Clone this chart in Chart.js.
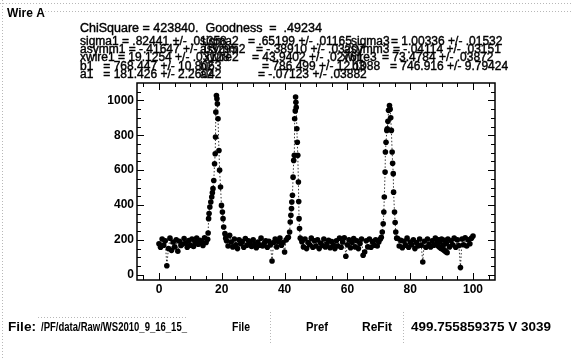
<!DOCTYPE html>
<html>
<head>
<meta charset="utf-8">
<script src="https://cdn.jsdelivr.net/npm/chart.js@4.4.0/dist/chart.umd.min.js"></script>
<style>
html, body { margin: 0; padding: 0; background: #fff; }
canvas { display: block; }
</style>
</head>
<body>
<canvas id="grafico" width="573" height="360"></canvas>
<script>
// wire position
const scanX = [
  0, 0.5, 1, 1.5, 2, 2.5, 3, 3.5, 4, 4.5, 5, 5.5, 6, 6.5, 7, 7.5, 8, 8.5, 9, 9.5,
  10, 10.5, 11, 11.5, 12, 12.5, 13, 13.5, 14, 14.5, 15, 15.5,
  15.65, 15.8, 15.95, 16.2, 16.5, 16.8, 17.0, 17.2, 17.45, 17.7, 17.9, 18.0, 18.1,
  18.3, 18.45, 18.6, 18.8, 19.1, 19.3, 19.6, 19.9, 20.2, 20.4, 20.6, 21.0, 21.25,
  21.5, 22, 22.5, 23, 23.5, 24, 24.5, 25, 25.5, 26,
  26.5, 27, 27.5, 28, 28.5, 29, 29.5, 30, 30.5, 31,
  31.5, 32, 32.5, 33, 33.5, 34, 34.5, 35, 35.5, 36,
  36.5, 37, 37.5, 38, 38.5, 39, 39.5, 40, 40.5, 41,
  41.2, 41.6, 41.8, 42.0, 42.2, 42.3, 42.5, 42.7, 42.9, 43.1, 43.2, 43.4, 43.5, 43.6,
  43.7, 43.9, 44.05, 44.2, 44.4, 44.5, 44.6, 44.75, 45.0,
  45.5, 46, 46.5, 47, 47.5, 48, 48.5, 49, 49.5, 50,
  50.5, 51, 51.5, 52, 52.5, 53, 53.5, 54, 54.5, 55,
  55.5, 56, 56.5, 57, 57.5, 58, 58.5, 59, 59.5, 60,
  60.5, 61, 61.5, 62, 62.5, 63, 63.5, 64, 64.5, 65,
  65.5, 66, 66.5, 67, 67.5, 68, 68.5, 69, 69.5, 70, 70.5,
  70.8, 71.1, 71.4, 71.6, 71.75, 72.0, 72.1, 72.3, 72.55, 72.7, 72.9, 73.1, 73.4, 73.6,
  73.8, 74.0, 74.25, 74.4, 74.6, 74.7, 75.0, 75.2, 75.4, 75.7,
  76, 76.5, 77, 77.5, 78, 78.5, 79, 79.5, 80, 80.5,
  81, 81.5, 82, 82.5, 83, 83.5, 84, 84.5, 85, 85.5,
  86, 86.5, 87, 87.5, 88, 88.5, 88.75, 89, 89.25, 89.5,
  89.75, 90, 90.25, 90.5, 90.75, 91, 91.25, 91.5, 91.75, 92,
  92.5, 93, 93.5, 94, 94.5, 95, 95.5, 96, 96.5, 97,
  97.5, 98, 98.5, 99, 99.5, 100
];
// counts
const scanY = [
  178, 158, 205, 170, 195, 52, 150, 210, 140, 188, 160, 200, 135, 192, 168, 176, 208, 182, 158, 196,
  170, 205, 162, 186, 210, 175, 198, 190, 168, 212, 185, 204,
  240, 322, 351, 389, 417, 446, 470, 494, 541, 637, 694, 790, 933,
  1028, 1010, 981, 895, 713, 600, 503, 398, 360, 322, 274, 236, 210,
  195, 165, 226, 188, 160, 205, 172, 150, 200, 178,
  190, 158, 208, 170, 195, 185, 162, 200, 176, 155,
  188, 170, 210, 165, 180, 195, 158, 192, 172, 79,
  185, 205, 160, 190, 210, 170, 185, 131, 200, 212,
  215, 245, 303, 341, 380, 417, 456, 560, 656, 685, 895, 940, 1019, 990,
  960, 838, 760, 685, 532, 420, 322, 265, 210,
  190, 160, 205, 150, 185, 172, 210, 158, 195, 165,
  200, 150, 182, 168, 205, 160, 178, 198, 155, 190,
  170, 150, 195, 165, 210, 158, 188, 212, 106, 172,
  200, 155, 185, 208, 160, 195, 150, 180, 205, 112,
  130, 195, 160, 205, 158, 190, 170, 200, 165, 188, 205,
  215, 245, 293, 360, 446, 589, 704, 760, 828, 838, 880, 943, 971, 950,
  900, 828, 704, 640, 580, 474, 360, 300, 245, 210,
  208, 165, 198, 155, 192, 170, 210, 158, 188, 172,
  200, 150, 185, 165, 205, 170, 73, 192, 158, 205,
  175, 160, 195, 170, 210, 182, 168, 200, 160, 190,
  152, 205, 146, 170, 140, 198, 134, 180, 127, 205,
  160, 195, 172, 210, 158, 200, 168, 41, 205, 172,
  212, 165, 200, 178, 210, 222
];
const xTicks = [0, 20, 40, 60, 80, 100];
const yTicks = [0, 200, 400, 600, 800, 1000];

const titulo = 'Wire A';
const linhaChi = 'ChiSquare = 423840.  Goodness  =  .49234';
// [x, y, text]
const parametros = [
  [80, 45, 'sigma1 = .82441 +/- .01358'],
  [80, 53, 'asymm1 = -.41647 +/- .03295'],
  [80, 61, 'xwire1 = 19.1254 +/- .03128'],
  [80, 69.5, 'b1   = 768.447 +/- 10.8063'],
  [80, 78, 'a1   = 181.426 +/- 2.26042'],
  [200, 45, 'sigma2'], [248, 45, '= .65199 +/- .01165'],
  [200, 53, 'asymm2'], [256, 53, '= -.38910 +/- .03207'],
  [204, 61, 'xwire2'], [252, 61, '= 43.9402 +/- .02761'],
  [200, 69.5, 'b2'], [262, 69.5, '= 786.499 +/- 12.1088'],
  [200, 78, 'a2'], [258, 78, '= -.07123 +/- .03882'],
  [351, 45, 'sigma3'], [391, 45, '= 1.00336 +/- .01532'],
  [344, 53, 'asymm3'], [393, 53, '= -.04114 +/- .03151'],
  [342, 61, 'xwire3'], [382, 61, '= 73.4784 +/- .03872'],
  [352, 69.5, 'b3'], [390, 69.5, '= 746.916 +/- 9.79424']
];
// bottom bar: [x, y, text, width]
const rodape = [
  [8, 331, 'File:', 28],
  [41, 331, '/PF/data/Raw/WS2010_9_16_15_', 146],
  [232, 331, 'File', 18],
  [306, 331, 'Pref', 22],
  [362, 331, 'ReFit', 30],
  [411, 331, '499.755859375 V 3039', 140]
];

const fonte = 'Liberation Sans, Arial, sans-serif';

function texto(c, x, y, s, peso, tam, grosso) {
  c.font = peso + ' ' + tam + 'px ' + fonte;
  c.fillText(s, x, y);
  if (grosso) {
    c.lineWidth = grosso;
    c.strokeText(s, x, y);
  }
}

// squeeze text horizontally to the width seen on the print
function textoLargura(c, x, y, s, tam, largura) {
  c.font = 'bold ' + tam + 'px ' + fonte;
  const w = c.measureText(s).width;
  c.save();
  c.translate(x, y);
  c.scale(largura / w, 1);
  c.fillText(s, 0, 0);
  c.restore();
}

function linha(c, x1, y1, x2, y2) {
  c.beginPath();
  c.moveTo(x1, y1);
  c.lineTo(x2, y2);
  c.stroke();
}

const moldura = {
  id: 'moldura',
  afterDraw(chart) {
    const c = chart.ctx;
    const a = chart.chartArea;
    const sx = chart.scales.x;
    const sy = chart.scales.y;
    c.save();

    // faint widget borders from the screen dump
    c.strokeStyle = '#b8b8b8';
    c.lineWidth = 1;
    c.setLineDash([1, 2]);
    linha(c, 0, 3.5, 573, 3.5);
    linha(c, 2.5, 0, 2.5, 360);
    linha(c, 45, 11.5, 573, 11.5);
    linha(c, 38, 317.5, 188, 317.5);
    linha(c, 270.5, 312, 270.5, 345);
    linha(c, 403.5, 312, 403.5, 345);
    c.setLineDash([]);

    // plot frame
    c.strokeStyle = '#000';
    c.lineWidth = 1.5;
    c.strokeRect(a.left, a.top, a.right - a.left, a.bottom - a.top);

    // inward ticks on all four sides
    c.lineWidth = 1;
    for (let v = -5; v <= 105; v += 5) {
      const px = Math.round(sx.getPixelForValue(v)) + 0.5;
      const len = v % 20 === 0 ? 7 : 4;
      linha(c, px, a.bottom, px, a.bottom - len);
      linha(c, px, a.top, px, a.top + len);
    }
    for (let v = 0; v <= 1050; v += 50) {
      const py = Math.round(sy.getPixelForValue(v)) + 0.5;
      const len = v % 200 === 0 ? 7 : 4;
      linha(c, a.left, py, a.left + len, py);
      linha(c, a.right, py, a.right - len, py);
    }

    // texts
    c.fillStyle = '#000';
    c.strokeStyle = '#000';
    c.textBaseline = 'alphabetic';
    c.textAlign = 'left';
    texto(c, 7, 17, titulo, 'bold', 12);
    texto(c, 80, 32, linhaChi, 'normal', 12.5, 0.4);
    parametros.forEach(p => texto(c, p[0], p[1], p[2], 'normal', 12, 0.4));
    rodape.forEach(p => textoLargura(c, p[0], p[1], p[2], 12, p[3]));
    c.restore();
  }
};

let pontos = scanX.map((x, i) => ({ x: x, y: scanY[i] }));

let grafico = document.getElementById('grafico').getContext('2d');

let chart = new Chart(grafico, {
  type: 'scatter',
  data: {
    datasets: [
      {
        label: 'Wire A',
        data: pontos,
        showLine: true,
        borderColor: '#000',
        borderWidth: 0.8,
        borderDash: [1.5, 2],
        pointRadius: 2.8,
        pointBackgroundColor: '#000',
        pointBorderWidth: 0
      }
    ]
  },
  options: {
    responsive: false,
    devicePixelRatio: 1,
    animation: false,
    layout: { padding: { top: 83, right: 78, left: 0, bottom: 0 } },
    plugins: { legend: { display: false }, tooltip: { enabled: false } },
    scales: {
      x: {
        type: 'linear',
        min: -7,
        max: 107,
        afterBuildTicks: s => { s.ticks = xTicks.map(v => ({ value: v })); },
        afterFit: s => { s.height = 80; },
        grid: { display: false, drawTicks: false },
        border: { display: false },
        ticks: {
          color: '#000',
          padding: 2,
          maxRotation: 0,
          autoSkip: false,
          callback: v => String(v),
          font: { family: fonte, size: 12, weight: 'bold' }
        }
      },
      y: {
        min: -30,
        max: 1100,
        afterBuildTicks: s => { s.ticks = yTicks.map(v => ({ value: v })); },
        afterFit: s => { s.width = 137; },
        grid: { display: false, drawTicks: false },
        border: { display: false },
        ticks: {
          color: '#000',
          padding: 3,
          autoSkip: false,
          callback: v => String(v),
          font: { family: fonte, size: 12, weight: 'bold' }
        }
      }
    }
  },
  plugins: [moldura]
});
</script>
</body>
</html>
